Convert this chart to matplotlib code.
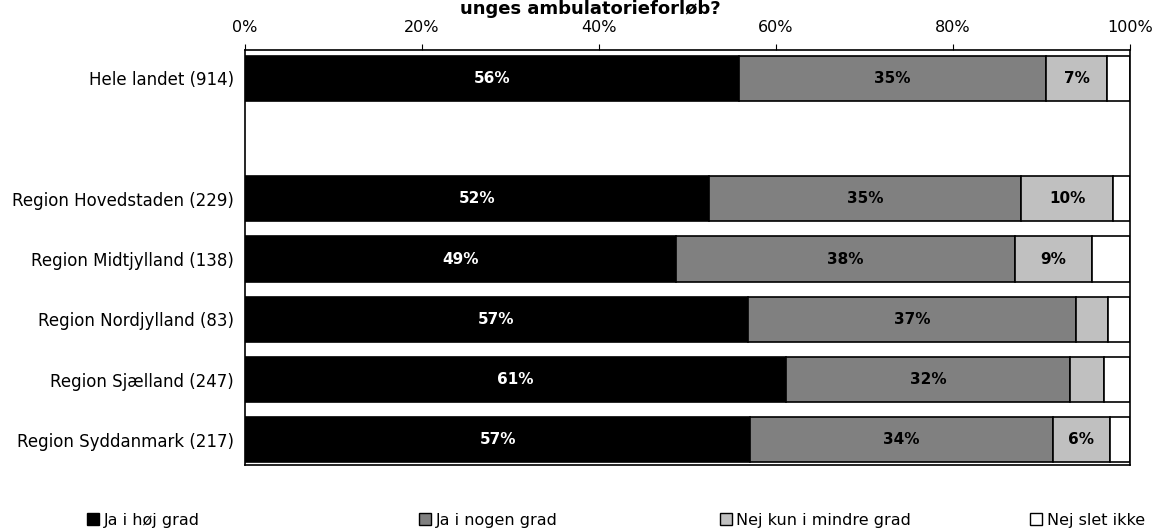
import matplotlib.pyplot as plt
from matplotlib.patches import Patch

plt.rcParams['font.family'] = ['DejaVu Sans']

regioner = ['Hele landet (914)', '', 'Region Hovedstaden (229)', 'Region Midtjylland (138)',
            'Region Nordjylland (83)', 'Region Sjælland (247)', 'Region Syddanmark (217)']
hoej = [55.8, None, 52.4, 48.7, 56.8, 61.1, 57.1]
nogen = [34.7, None, 35.3, 38.3, 37.1, 32.1, 34.2]
mindre = [6.9, None, 10.4, 8.7, 3.6, 3.9, 6.4]
slet = [2.6, None, 1.9, 4.3, 2.5, 2.9, 2.3]

serier = ['Ja i høj grad', 'Ja i nogen grad', 'Nej kun i mindre grad', 'Nej slet ikke']
farver = ['#000000', '#808080', '#c0c0c0', '#ffffff']
tekstfarver = ['white', 'black', 'black', 'black']

fig = plt.figure(figsize=(11.57, 5.31), dpi=100)
ax = fig.add_axes([0.2118, 0.124, 0.7649, 0.782])

for i, navn in enumerate(regioner):
    if hoej[i] is None:
        continue
    venstre = 0
    for j, v in enumerate([hoej[i], nogen[i], mindre[i], slet[i]]):
        ax.barh(i, v, left=venstre, height=0.75, color=farver[j], edgecolor='black', linewidth=1.2)
        if v >= 5:
            ax.text(venstre + v / 2, i, f'{v:.0f}%', ha='center', va='center',
                    color=tekstfarver[j], fontsize=11, fontweight='bold')
        venstre += v

ax.set_xlim(0, 100)
ax.set_ylim(6.42, -0.47)
ax.set_yticks(range(len(regioner)))
ax.set_yticklabels(regioner, fontsize=12)
ax.tick_params(axis='y', length=0, pad=8)
ax.xaxis.tick_top()
ax.set_xticks([0, 20, 40, 60, 80, 100])
ax.set_xticklabels(['0%', '20%', '40%', '60%', '80%', '100%'], fontsize=11.5)
ax.tick_params(axis='x', length=4, pad=7)
for s in ax.spines.values():
    s.set_linewidth(1.2)

fig.text(0.51, 0.9736, 'unges ambulatorieforløb?', ha='center', va='baseline', fontsize=13, fontweight='bold')

# legenden: fire separate poster fordelt over bredden
leg_x = [0.075, 0.362, 0.622, 0.89]
for k in range(4):
    h = Patch(facecolor=farver[k], edgecolor='black', label=serier[k])
    fig.legend(handles=[h], loc='center left', bbox_to_anchor=(leg_x[k], 0.02), frameon=False,
               fontsize=11.5, handlelength=0.75, handleheight=0.75, handletextpad=0.3,
               borderpad=0, borderaxespad=0)

fig.savefig('out.png', dpi=100)
